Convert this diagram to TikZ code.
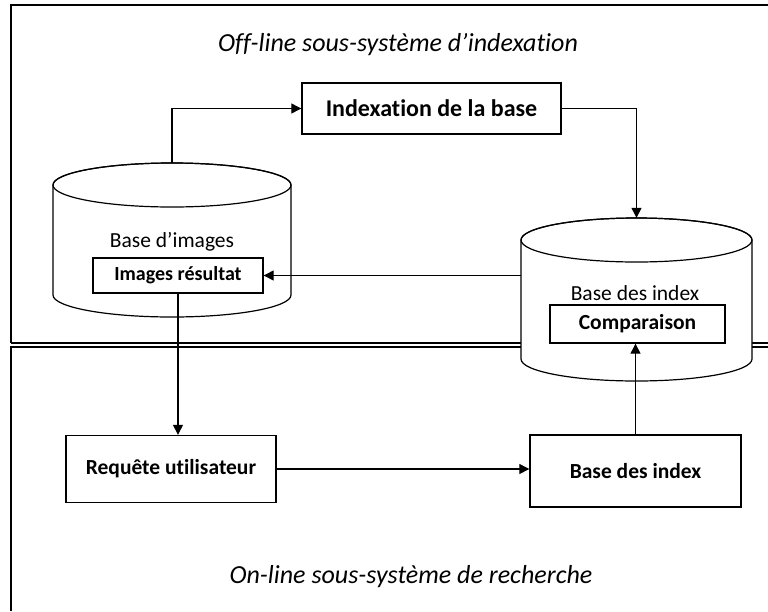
\documentclass[tikz,border=0pt]{standalone}
\usepackage{fontspec}
\setmainfont{Carlito}[Ligatures={NoCommon}]
\usetikzlibrary{arrows.meta}
\begin{document}
\begin{tikzpicture}[x=1pt,y=-1pt,
  frame/.style={line width=1.6pt},
  box/.style={draw,line width=1.4pt,fill=white,inner sep=0pt,font=\fontsize{21.5}{24}\selectfont\bfseries},
  cyl/.style={draw,line width=1.2pt,fill=white},
  lbl/.style={inner sep=0pt,font=\fontsize{21.5}{24}\selectfont},
  ttl/.style={inner sep=0pt,font=\fontsize{26}{30}\selectfont\itshape},
  conn/.style={line width=1.3pt,-{Triangle[length=10pt,width=10pt]}}]
\useasboundingbox (0,0) rectangle (768,611);
% frames
\draw[frame] (11,343) -- (11,5) -- (768,5);
\draw[frame] (11,343) -- (768,343);
\draw[frame] (768,347) -- (11,347) -- (11,611);
% cylinder 1
\node[inner sep=0pt,minimum width=238pt,minimum height=154pt] (cyl1) at (172,240) {};
\path[cyl] (53,185) -- (53,295) arc[start angle=180,end angle=0,x radius=119,y radius=22] -- (291,185) arc[start angle=0,end angle=-180,x radius=119,y radius=22] -- cycle;
\draw[line width=1.2pt] (172,185) ellipse[x radius=119,y radius=22];
% cylinder 2
\node[inner sep=0pt,minimum width=231pt,minimum height=163pt] (cyl2) at (636.5,299.5) {};
\path[cyl] (521,240) -- (521,359) arc[start angle=180,end angle=0,x radius=115.5,y radius=22] -- (752,240) arc[start angle=0,end angle=-180,x radius=115.5,y radius=22] -- cycle;
\draw[line width=1.2pt] (636.5,240) ellipse[x radius=115.5,y radius=22];
% titles
\node[ttl] (t1) at (398,45) {Off-line sous-système d’indexation};
\node[ttl] (t2) at (411,577) {On-line sous-système de recherche};
% labels in cylinders
\node[lbl] (l1) at (172,242) {Base d’images};
\node[lbl] (l2) at (635,293) {Base des index};
% boxes
\node[box,minimum width=259pt,minimum height=51pt,font=\fontsize{24}{28}\selectfont\bfseries] (idx) at (431.5,108.5) {Indexation de la base};
\node[box,minimum width=170pt,minimum height=35pt,font=\fontsize{20}{23}\selectfont\bfseries] (res) at (178,275.5) {Images résultat};
\node[box,minimum width=175pt,minimum height=38pt] (cmp) at (637.5,324) {Comparaison};
\node[box,minimum width=210pt,minimum height=67pt] (req) at (171,469) {Requête utilisateur};
\node[box,minimum width=211pt,minimum height=72pt] (bdi) at (635.5,471) {Base des index};
% connectors
\draw[conn] (cyl1.north) |- (idx.west);
\draw[conn] (idx.east) -| (cyl2.north);
\draw[conn] (res.east -| cyl2.west) -- (res.east);
\draw[conn] (res.south) -- (res.south |- req.north);
\draw[conn] (req.east) -- (req.east -| bdi.west);
\draw[conn] (bdi.north) -- (bdi.north |- cmp.south);
\end{tikzpicture}
\end{document}
